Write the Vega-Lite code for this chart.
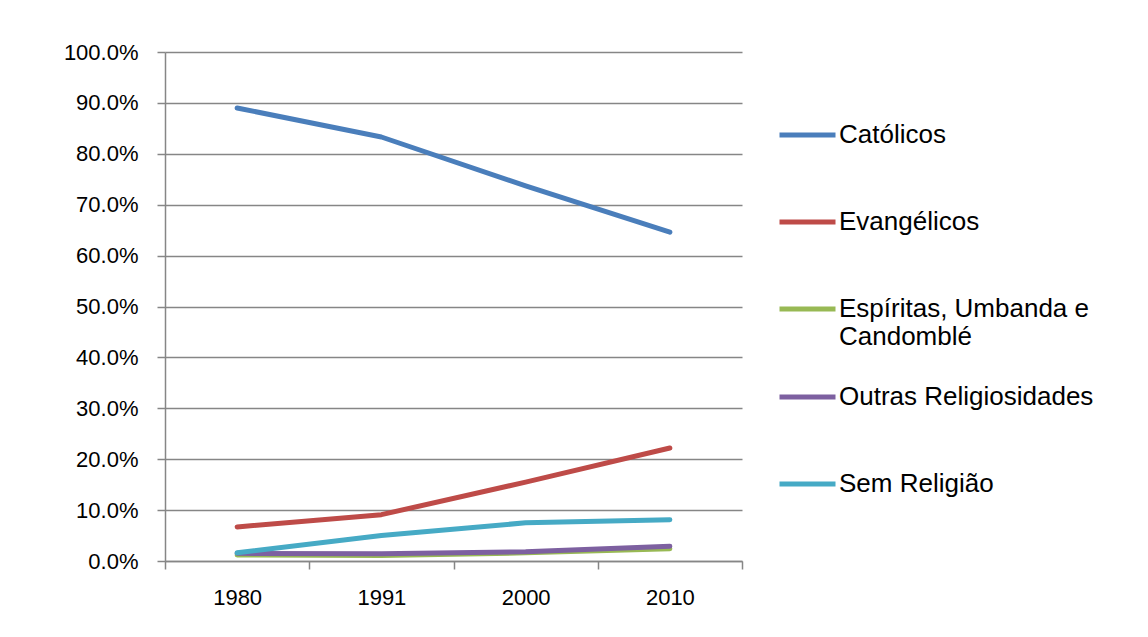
{
  "$schema": "https://vega.github.io/schema/vega-lite/v6.json",
  "autosize": "none",
  "width": 577,
  "height": 509,
  "padding": {"left": 165, "top": 52, "right": 406, "bottom": 76},
  "background": "white",
  "config": {
    "font": "Liberation Sans",
    "view": {"stroke": null}
  },
  "data": {
    "values": [
      {"ano": "1980", "grupo": "Católicos", "pct": 0.890},
      {"ano": "1991", "grupo": "Católicos", "pct": 0.833},
      {"ano": "2000", "grupo": "Católicos", "pct": 0.737},
      {"ano": "2010", "grupo": "Católicos", "pct": 0.646},
      {"ano": "1980", "grupo": "Evangélicos", "pct": 0.067},
      {"ano": "1991", "grupo": "Evangélicos", "pct": 0.091},
      {"ano": "2000", "grupo": "Evangélicos", "pct": 0.155},
      {"ano": "2010", "grupo": "Evangélicos", "pct": 0.222},
      {"ano": "1980", "grupo": "Espíritas, Umbanda e Candomblé", "pct": 0.012},
      {"ano": "1991", "grupo": "Espíritas, Umbanda e Candomblé", "pct": 0.011},
      {"ano": "2000", "grupo": "Espíritas, Umbanda e Candomblé", "pct": 0.016},
      {"ano": "2010", "grupo": "Espíritas, Umbanda e Candomblé", "pct": 0.024},
      {"ano": "1980", "grupo": "Outras Religiosidades", "pct": 0.015},
      {"ano": "1991", "grupo": "Outras Religiosidades", "pct": 0.014},
      {"ano": "2000", "grupo": "Outras Religiosidades", "pct": 0.018},
      {"ano": "2010", "grupo": "Outras Religiosidades", "pct": 0.029},
      {"ano": "1980", "grupo": "Sem Religião", "pct": 0.016},
      {"ano": "1991", "grupo": "Sem Religião", "pct": 0.050},
      {"ano": "2000", "grupo": "Sem Religião", "pct": 0.075},
      {"ano": "2010", "grupo": "Sem Religião", "pct": 0.081}
    ]
  },
  "mark": {"type": "line", "strokeWidth": 5, "strokeCap": "round", "strokeJoin": "round"},
  "encoding": {
    "x": {
      "field": "ano",
      "type": "ordinal",
      "bandPosition": 0.5,
      "scale": {"type": "band", "paddingInner": 0, "paddingOuter": 0},
      "axis": {
        "title": null,
        "labelAngle": 0,
        "labelFontSize": 22,
        "labelColor": "#000000",
        "labelPadding": 18,
        "tickBand": "extent",
        "tickSize": 8,
        "tickColor": "#868686",
        "tickWidth": 1.5,
        "domainColor": "#868686",
        "domainWidth": 1.5,
        "grid": false
      }
    },
    "y": {
      "field": "pct",
      "type": "quantitative",
      "scale": {"domain": [0, 1], "nice": false},
      "axis": {
        "title": null,
        "format": ".1%",
        "values": [0, 0.1, 0.2, 0.3, 0.4, 0.5, 0.6, 0.7, 0.8, 0.9, 1.0],
        "labelFontSize": 22,
        "labelColor": "#000000",
        "labelPadding": 19,
        "tickSize": 8,
        "tickColor": "#868686",
        "tickWidth": 1.5,
        "domainColor": "#868686",
        "domainWidth": 1.5,
        "grid": true,
        "gridColor": "#868686",
        "gridWidth": 1.5
      }
    },
    "color": {
      "field": "grupo",
      "type": "nominal",
      "scale": {
        "domain": ["Católicos", "Evangélicos", "Espíritas, Umbanda e Candomblé", "Outras Religiosidades", "Sem Religião"],
        "range": ["#4A7EBB", "#BE4B48", "#98B954", "#7D60A0", "#46AAC5"]
      },
      "legend": {
        "title": null,
        "orient": "none",
        "legendX": 612,
        "legendY": 43,
        "symbolType": "stroke",
        "symbolSize": 3136,
        "symbolStrokeWidth": 5,
        "labelFontSize": 26,
        "labelColor": "#000000",
        "labelOffset": 1,
        "labelLimit": 400,
        "clipHeight": 80,
        "rowPadding": 7,
        "labelExpr": "datum.label == 'Espíritas, Umbanda e Candomblé' ? ['Espíritas, Umbanda e', 'Candomblé'] : datum.label"
      }
    }
  }
}
